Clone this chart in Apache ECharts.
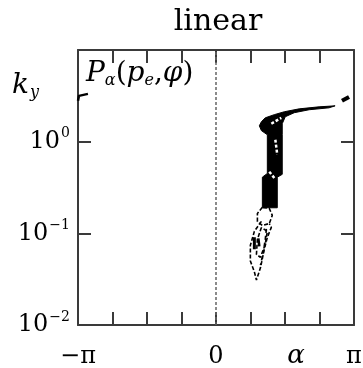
<!DOCTYPE html>
<html lang="en">
<head>
    <meta charset="UTF-8">
    <title>linear</title>
    <style>
        html, body { margin: 0; padding: 0; background: #fff; }
        #main { width: 363px; height: 368px; }
    </style>
    <script src="https://cdn.jsdelivr.net/npm/echarts@6/dist/echarts.min.js"></script>
</head>
<body>
    <div id="main"></div>
    <script>
      // x in units of pi, y = k_y (log)
      var xTicks = [-1, 0, 1];
      var xTickText = ['\u2212\u03c0', '0', '\u03c0'];

      // filled dense region of the contours
      var coreU = [0.314, 0.329, 0.357, 0.422, 0.495, 0.603, 0.747, 0.863, 0.819, 0.675, 0.567, 0.502, 0.480, 0.480, 0.480, 0.444, 0.444, 0.336, 0.336, 0.372, 0.372, 0.329];
      var coreK = [1.49, 1.65, 1.82, 1.97, 2.12, 2.28, 2.40, 2.46, 2.34, 2.23, 2.07, 1.87, 1.57, 1.19, 0.44, 0.41, 0.19, 0.19, 0.41, 0.45, 1.19, 1.32];

      // dashed outer contours
      var ring1U = [0.336, 0.300, 0.300, 0.336, 0.386, 0.408, 0.386, 0.336];
      var ring1K = [0.192, 0.165, 0.135, 0.122, 0.128, 0.157, 0.187, 0.192];
      var ring2U = [0.329, 0.278, 0.249, 0.249, 0.278, 0.293, 0.322, 0.350, 0.372, 0.401, 0.386];
      var ring2K = [0.135, 0.105, 0.074, 0.050, 0.038, 0.031, 0.042, 0.067, 0.0905, 0.116, 0.128];
      var ring3U = [0.329, 0.300, 0.293, 0.322, 0.357, 0.372, 0.329];
      var ring3K = [0.116, 0.086, 0.059, 0.0548, 0.0759, 0.105, 0.116];
      var ring4U = [0.365, 0.357, 0.343, 0.322];
      var ring4K = [0.112, 0.086, 0.062, 0.045];

      // small pieces
      var stubU = [0.278, 0.278];
      var stubK = [0.0905, 0.067];
      var stub2U = [0.307, 0.314];
      var stub2K = [0.088, 0.072];
      var fragRU = [0.913, 0.964];
      var fragRK = [2.79, 3.08];
      var fragLU = [-1.0, -0.993, -0.928];
      var fragLK = [2.79, 3.16, 3.32];

      // white gaps inside the filled region
      var gap1U = [0.401, 0.473];
      var gap1K = [1.57, 1.82];
      var gap2U = [0.430, 0.444];
      var gap2K = [1.05, 0.72];
      var gap3U = [0.386, 0.430];
      var gap3K = [0.47, 0.39];

      function pts(u, k) {
        return u.map(function (v, i) { return [v, k[i]]; });
      }

      function lineSeries(u, k, color, width, type) {
        return {
          type: 'line',
          data: pts(u, k),
          symbol: 'none',
          silent: true,
          z: 3,
          lineStyle: { color: color, width: width, type: type }
        };
      }

      var chart = echarts.init(document.getElementById('main'));
      var serif = 'DejaVu Serif';
      var axisColor = '#3a3a3a';

      var xCommon = {
        type: 'value', min: -1, max: 1, interval: 0.25,
        axisLine: { show: true, onZero: false, lineStyle: { color: axisColor, width: 2 } },
        axisTick: { show: true, inside: true, length: 13, lineStyle: { color: axisColor, width: 2 } },
        splitLine: { show: false }
      };
      var yCommon = {
        type: 'log', logBase: 10, min: 0.01, max: 10,
        axisLine: { show: true, onZero: false, lineStyle: { color: axisColor, width: 2 } },
        axisTick: { show: true, inside: true, length: 13, lineStyle: { color: axisColor, width: 2 } },
        minorTick: { show: false },
        splitLine: { show: false }
      };

      chart.setOption({
        animation: false,
        title: {
          text: 'linear', left: 213, top: 2, textAlign: 'center',
          textStyle: { fontFamily: serif, fontWeight: 'normal', fontSize: 30, color: '#000' }
        },
        grid: { left: 78, right: 9, top: 50, bottom: 43, outerBoundsMode: 'none' },
        xAxis: [
          Object.assign({}, xCommon, {
            position: 'bottom',
            axisLabel: {
              margin: 20, color: '#000', fontFamily: serif, fontSize: 24,
              formatter: function (v) {
                for (var i = 0; i < xTicks.length; i++) {
                  if (Math.abs(v - xTicks[i]) < 1e-6) return xTickText[i];
                }
                return '';
              }
            }
          }),
          Object.assign({}, xCommon, { position: 'top', axisLabel: { show: false } })
        ],
        yAxis: [
          Object.assign({}, yCommon, {
            position: 'left',
            axisLabel: {
              margin: 8, color: '#000', fontFamily: serif, fontSize: 24,
              formatter: function (v) {
                var e = Math.round(Math.log10(v));
                if (e > 0) return '';
                return '10{sup|' + (e < 0 ? '\u2212' + (-e) : e) + '}';
              },
              rich: {
                sup: { fontFamily: serif, fontSize: 14, color: '#000', padding: [0, 0, 16, 1] }
              }
            }
          }),
          Object.assign({}, yCommon, { position: 'right', axisLabel: { show: false } })
        ],
        graphic: [
          {
            type: 'text', left: 12, top: 72,
            style: {
              text: '{k|k}{s|y}',
              rich: {
                k: { fontFamily: serif, fontStyle: 'italic', fontSize: 28, fill: '#000' },
                s: { fontFamily: serif, fontStyle: 'italic', fontSize: 16, fill: '#000', padding: [14, 0, 0, 1] }
              }
            }
          },
          {
            type: 'text', left: 86, top: 60,
            style: {
              text: '{i|P}{s|\u03b1}{n|(}{i|p}{s|e}{n|,}{i|\u03c6}{n|)}',
              rich: {
                i: { fontFamily: serif, fontStyle: 'italic', fontSize: 28, fill: '#000' },
                n: { fontFamily: serif, fontSize: 28, fill: '#000' },
                s: { fontFamily: serif, fontStyle: 'italic', fontSize: 16, fill: '#000', padding: [14, 0, 0, 0] }
              }
            }
          },
          {
            type: 'text', x: 296, y: 343,
            style: {
              text: '\u03b1', textAlign: 'center',
              font: 'italic 26px "DejaVu Serif"', fill: '#000'
            }
          }
        ],
        series: [
          {
            type: 'custom',
            data: pts(coreU, coreK),
            silent: true,
            z: 2,
            renderItem: function (params, api) {
              if (params.context.rendered) return;
              params.context.rendered = true;
              var points = pts(coreU, coreK).map(function (p) { return api.coord(p); });
              return {
                type: 'polygon',
                shape: { points: points },
                style: { fill: '#000', stroke: '#000', lineWidth: 1 }
              };
            },
            markLine: {
              silent: true,
              symbol: 'none',
              label: { show: false },
              lineStyle: { color: '#666', width: 1.5, type: [3, 2] },
              data: [{ xAxis: 0 }]
            }
          },
          lineSeries(ring1U, ring1K, '#000', 1.6, [4, 2]),
          lineSeries(ring2U, ring2K, '#000', 1.6, [4, 2]),
          lineSeries(ring3U, ring3K, '#000', 1.6, [4, 2]),
          lineSeries(ring4U, ring4K, '#000', 1.6, [4, 3]),
          lineSeries(stubU, stubK, '#000', 3, 'solid'),
          lineSeries(stub2U, stub2K, '#000', 2.5, 'solid'),
          lineSeries(fragRU, fragRK, '#000', 4, 'solid'),
          lineSeries(fragLU, fragLK, '#000', 2.5, 'solid'),
          lineSeries(gap1U, gap1K, '#fff', 2.5, [3, 2]),
          lineSeries(gap2U, gap2K, '#fff', 2.5, [3, 2]),
          lineSeries(gap3U, gap3K, '#fff', 2.5, [3, 2])
        ]
      });
    </script>
</body>
</html>
